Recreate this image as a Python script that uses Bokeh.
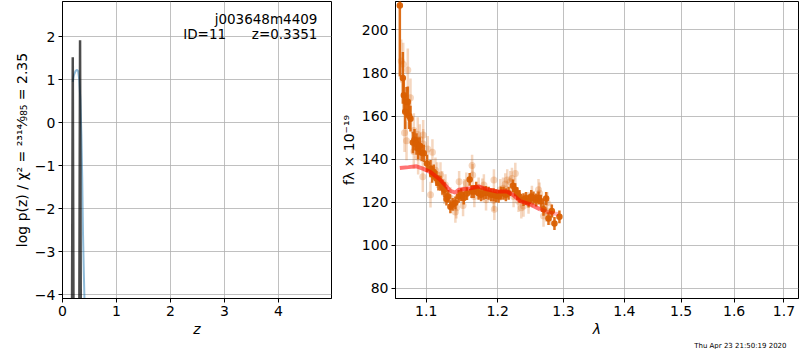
import numpy as np
from bokeh.plotting import figure
from bokeh.layouts import row
from bokeh.models import FixedTicker, Label, PrintfTickFormatter, Range1d, Title
from bokeh.embed import file_html
from bokeh.resources import INLINE

# ---------------- data: left panel (redshift PDF) ----------------
z_coarse = [0.19, 0.21, 0.24, 0.27, 0.29, 0.31, 0.33, 0.35, 0.365, 0.38, 0.395, 0.41, 0.42]
logp_coarse = [0.95, 1.10, 1.20, 1.23, 1.20, 1.00, 0.55, -0.30, -1.30, -2.60, -3.50, -4.30, -4.8]
z_fine = [0.175, 0.19, 0.205, 0.31, 0.325, 0.34]
logp_fine = [-5.0, 1.52, -5.0, -5.0, 1.92, -5.0]
z_ticks = [0, 1, 2, 3, 4]
logp_ticks = [-4, -3, -2, -1, 0, 1, 2]

# ---------------- data: right panel (spectrum) ----------------
lam_dark = [1.0653, 1.0692, 1.0705, 1.0723, 1.0740, 1.0757, 1.0775, 1.0792, 1.0823, 1.0845,
            1.0871, 1.0893, 1.0915, 1.0940, 1.0968, 1.1010, 1.1058, 1.1080, 1.1102, 1.1138,
            1.1165, 1.1193, 1.1220, 1.1247, 1.1275, 1.1298, 1.1329, 1.1360, 1.1398, 1.1444,
            1.1480, 1.1514, 1.1560, 1.1598, 1.1625, 1.1654, 1.1690, 1.1725, 1.1760, 1.1796,
            1.1830, 1.1868, 1.1905, 1.1940, 1.1975, 1.2013, 1.2050, 1.2086, 1.2120, 1.2160,
            1.2225, 1.2259, 1.2290, 1.2323, 1.2383, 1.2420, 1.2459, 1.2500, 1.2534, 1.2575,
            1.2611, 1.2650, 1.2688, 1.2729, 1.2765, 1.2817, 1.2858, 1.2936]
f_dark = [211.4, 177.7, 169.7, 162.0, 166.5, 166.7, 160.0, 158.8, 147.7, 149.0,
          147.0, 145.0, 146.2, 143.0, 142.7, 138.0, 135.6, 133.0, 134.0, 131.0,
          129.0, 128.8, 127.0, 125.8, 121.5, 122.7, 117.9, 119.0, 119.7, 122.7,
          123.5, 122.0, 124.0, 130.6, 125.0, 125.0, 126.5, 124.2, 123.5, 124.2,
          124.5, 124.2, 123.5, 123.5, 123.0, 122.7, 124.2, 124.2, 123.5, 124.2,
          127.6, 125.8, 124.0, 122.7, 121.2, 121.8, 120.5, 122.7, 122.0, 121.0,
          122.0, 120.5, 116.7, 121.7, 112.4, 115.9, 110.1, 113.2]
e_dark = [33, 12, 8, 8, 7, 7, 6, 6, 5, 5,
          5, 5, 4, 4, 4, 4, 4, 4, 3.5, 3.5,
          3.5, 3.5, 3.5, 3.5, 3, 3, 3, 3, 3, 3,
          3, 3, 3, 3, 3, 3, 3, 3, 3, 3,
          3, 3, 3, 3, 3, 3, 3, 3, 3, 3,
          3, 3, 3, 3, 3, 3, 3, 3, 3, 3,
          3, 3, 3, 3, 3, 3, 3, 3]

lam_light = [1.0671, 1.0697, 1.0714, 1.0740, 1.0757, 1.0792, 1.0836, 1.0836, 1.0888, 1.0893,
             1.0915, 1.0955, 1.0960, 1.0960, 1.1021, 1.1058, 1.1084, 1.1125, 1.1148, 1.1193,
             1.1216, 1.1247, 1.1261, 1.1329, 1.1398, 1.1412, 1.1450, 1.1505, 1.1523, 1.1551,
             1.1632, 1.1640, 1.1664, 1.1725, 1.1778, 1.1800, 1.1831, 1.1940, 1.1945, 1.1951,
             1.2038, 1.2078, 1.2111, 1.2140, 1.2185, 1.2210, 1.2234, 1.2260, 1.2308, 1.2350,
             1.2383, 1.2459, 1.2510, 1.2611, 1.2626, 1.2688, 1.2729, 1.2745, 1.2800]
f_light = [185.6, 184.1, 152.3, 148.5, 181.4, 168.5, 153.3, 143.6, 151.5, 140.9,
           149.2, 131.8, 151.2, 147.0, 144.7, 123.5, 143.2, 134.8, 132.6, 132.6,
           129.5, 124.2, 128.0, 122.0, 115.5, 117.4, 129.5, 118.5, 125.8, 128.8,
           137.0, 132.7, 122.7, 126.5, 126.0, 128.0, 121.2, 120.9, 130.3, 116.7,
           125.8, 126.5, 128.5, 130.3, 129.5, 131.0, 122.7, 133.3, 120.5, 117.4,
           118.2, 119.7, 122.7, 125.8, 124.2, 113.6, 115.9, 119.7, 114.4]
e_light = [10, 10, 9, 9, 10, 9, 8, 8, 8, 8,
           7, 7, 7, 7, 6, 6, 6, 6, 6, 6,
           5, 5, 5, 5, 5, 5, 5, 5, 5, 5,
           5, 5, 5, 5, 5, 5, 5, 5, 5, 5,
           5, 5, 5, 5, 5, 5, 5, 5, 5, 5,
           5, 5, 5, 5, 5, 5, 5, 5, 5]

lam_model = [1.0653, 1.0766, 1.0871, 1.0964, 1.1058, 1.1193, 1.1329, 1.1398, 1.1444, 1.1607,
             1.1725, 1.1845, 1.1990, 1.2136, 1.2234, 1.2334, 1.2484, 1.2637]
f_model = [135.9, 136.3, 136.7, 135.5, 134.0, 130.3, 125.3, 124.5, 125.8, 126.5,
           127.3, 126.0, 125.0, 125.0, 123.2, 120.5, 119.0, 116.7]
lam_model_tail = [1.2637, 1.2791, 1.2920]
f_model_tail = [116.7, 115.1, 114.4]

lam_ticks = [1.1, 1.2, 1.3, 1.4, 1.5, 1.6, 1.7]
f_ticks = [80, 100, 120, 140, 160, 180, 200]

obj_name = "j003648m4409"
obj_info = "ID=11\u00a0\u00a0\u00a0\u00a0\u00a0\u00a0z=0.3351"
timestamp = "Thu Apr 23 21:50:19 2020"

FONT = "DejaVu Sans"
ORANGE = "#d95f02"
GRID = "#b0b0b0"


def style(p):
    p.outline_line_color = "black"
    p.outline_line_width = 1
    p.outline_line_alpha = 1
    for ax in p.axis:
        ax.axis_line_color = "black"
        ax.major_tick_out = 4
        ax.major_tick_in = 0
        ax.minor_tick_line_color = None
        ax.major_label_text_font = FONT
        ax.major_label_text_font_size = "14px"
        ax.major_label_text_color = "black"
        ax.major_label_standoff = 3
        ax.axis_label_text_font = FONT
        ax.axis_label_text_font_size = "14px"
        ax.axis_label_text_color = "black"
        ax.axis_label_standoff = 2
    p.grid.grid_line_color = GRID
    p.grid.grid_line_width = 0.8
    p.grid.grid_line_alpha = 1
    p.background_fill_color = "white"
    p.border_fill_color = "white"


def minus(v):
    s = ("%g" % v)
    return s.replace("-", "\u2212")


# ---------------- left figure ----------------
p1 = figure(width=333, height=349, output_backend="svg", toolbar_location=None,
            x_range=Range1d(0, 4.98), y_range=Range1d(-4.09, 2.82),
            min_border_left=62, min_border_right=2, min_border_top=1, min_border_bottom=40)
style(p1)
p1.xaxis.ticker = FixedTicker(ticks=z_ticks)
p1.yaxis.ticker = FixedTicker(ticks=logp_ticks)
p1.xgrid.ticker = FixedTicker(ticks=z_ticks)
p1.ygrid.ticker = FixedTicker(ticks=logp_ticks)
p1.yaxis.major_label_overrides = {t: minus(t) for t in logp_ticks}
p1.xaxis.axis_label = "z"
p1.xaxis.axis_label_text_font_style = "italic"
p1.yaxis.axis_label = "log p(z) / \u03c7\u00b2 = \u00b2\u00b3\u00b9\u2074\u2044\u2089\u2088\u2085 = 2.35"
p1.yaxis.axis_label_text_font_style = "normal"

p1.line(z_coarse, logp_coarse, line_color="#1f77b4", line_alpha=0.5, line_width=2)
p1.line(z_fine, logp_fine, line_color="black", line_alpha=0.7, line_width=2.5)

for txt, yy in [(obj_name, 2.41), (obj_info, 2.07)]:
    p1.add_layout(Label(x=4.72, y=yy, text=txt, text_align="right", text_baseline="middle",
                        text_font=FONT, text_font_size="13.5px", text_color="black"))

# ---------------- right figure ----------------
p2 = figure(width=466, height=349, output_backend="svg", toolbar_location=None,
            x_axis_type="log", x_range=Range1d(1.0597, 1.7303), y_range=Range1d(75.3, 213.2),
            min_border_left=62, min_border_right=1, min_border_top=1, min_border_bottom=40)
style(p2)
p2.xaxis.ticker = FixedTicker(ticks=lam_ticks)
p2.xgrid.ticker = FixedTicker(ticks=lam_ticks)
p2.xaxis.formatter = PrintfTickFormatter(format="%.1f")
p2.yaxis.ticker = FixedTicker(ticks=f_ticks)
p2.ygrid.ticker = FixedTicker(ticks=f_ticks)
p2.xaxis.axis_label = "\u03bb"
p2.xaxis.axis_label_text_font_style = "italic"
p2.yaxis.axis_label = "f\u03bb \u00d7 10\u207b\u00b9\u2079"
p2.yaxis.axis_label_text_font_style = "normal"

ll = np.array(lam_light)
fl = np.array(f_light)
el = np.array(e_light)
p2.segment(ll, fl - el, ll, fl + el, line_color=ORANGE, line_alpha=0.25, line_width=2.5)
p2.scatter(ll, fl, size=7, fill_color=ORANGE, fill_alpha=0.25, line_color=None)

ld = np.array(lam_dark)
fd = np.array(f_dark)
ed = np.array(e_dark)
p2.segment(ld, fd - ed, ld, fd + ed, line_color=ORANGE, line_alpha=0.9, line_width=2.5)
p2.scatter(ld, fd, size=6.5, fill_color=ORANGE, fill_alpha=0.95, line_color=None)

p2.line(lam_model, f_model, line_color="red", line_alpha=0.55, line_width=4)
p2.line(lam_model_tail, f_model_tail, line_color="red", line_alpha=0.3, line_width=4)

p2.add_layout(Title(text=timestamp, align="right", offset=12, standoff=0,
                    text_font=FONT, text_font_size="7px", text_font_style="normal",
                    text_color="black"), "below")

layout = row(p1, p2)
open("out.html", "w").write(file_html(layout, INLINE))
